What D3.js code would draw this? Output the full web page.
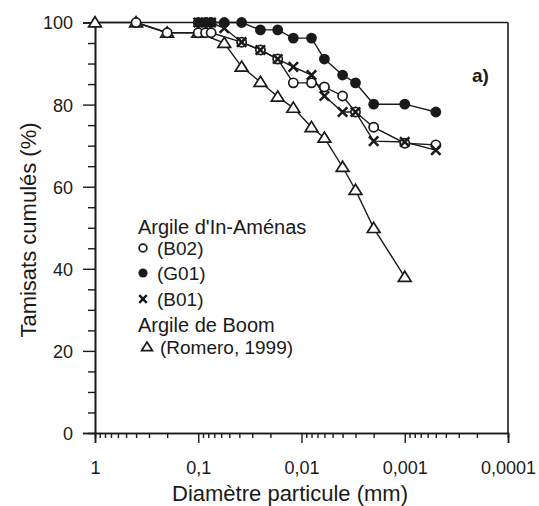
<!DOCTYPE html>
<html>
<head>
<meta charset="utf-8">
<script src="https://cdn.jsdelivr.net/npm/d3@7"></script>
<style>
  body { margin: 0; background: #fff; }
  text { font-family: "Liberation Sans", Arial, sans-serif; fill: #1a1a1a; }
</style>
</head>
<body>
<div id="chart"></div>
<script>
// grain size data, diameters in mm, cumulated passing in %
const boomD   = [1, 0.4, 0.2, 0.1, 0.056, 0.038, 0.025, 0.017, 0.012, 0.008, 0.006, 0.004, 0.003, 0.002, 0.001];
const boomV   = [100, 100, 97.5, 97.5, 95, 89.2, 85.5, 81.9, 79.2, 74.5, 71.9, 64.8, 59.2, 49.9, 38];

const b02D = [0.4, 0.2, 0.1, 0.085, 0.075, 0.038, 0.025, 0.017, 0.012, 0.008, 0.006, 0.004, 0.003, 0.002, 0.001, 0.0005];
const b02V = [100, 97.5, 97.5, 97.5, 97.5, 95.2, 93.3, 91.1, 85.3, 85.3, 84.3, 82.1, 78.2, 74.5, 70.6, 70.2];

const g01D = [0.1, 0.085, 0.075, 0.056, 0.038, 0.025, 0.017, 0.012, 0.008, 0.006, 0.004, 0.003, 0.002, 0.001, 0.0005];
const g01V = [100, 100, 100, 100, 100, 98.2, 98.2, 96.2, 96.2, 91.1, 87.2, 85.3, 80.1, 80.1, 78.2];

const b01D = [0.1, 0.085, 0.075, 0.056, 0.038, 0.025, 0.017, 0.012, 0.008, 0.006, 0.004, 0.003, 0.002, 0.001, 0.0005];
const b01V = [100, 100, 100, 98.6, 95.2, 93.3, 91.1, 89.2, 87.2, 82.1, 78.2, 78.2, 71.1, 70.9, 68.9];

const xTicks = [1, 0.1, 0.01, 0.001, 0.0001];
const xTickLabels = ["1", "0,1", "0,01", "0,001", "0,0001"];
const yTicks = [0, 20, 40, 60, 80, 100];

const W = 539, H = 506;
const ink = "#1a1a1a";

const svg = d3.select("#chart").append("svg")
    .attr("width", W)
    .attr("height", H);

// log scale, reversed (coarse on the left)
const x = d3.scaleLog()
    .domain([1, 0.0001])
    .range([95, 508]);

const y = d3.scaleLinear()
    .domain([0, 100])
    .range([433, 22.5]);

// minor ticks
let xMinor = [];
for (let e = 0; e > -4; e--) {
    for (let k = 2; k <= 9; k++) xMinor.push(k * Math.pow(10, e - 1));
}
let yMinor = d3.range(0, 101, 5).filter(v => v % 20 !== 0);

// frame top and right
svg.append("line")
    .attr("x1", x(1)).attr("x2", x(0.0001))
    .attr("y1", y(100)).attr("y2", y(100))
    .attr("stroke", ink).attr("stroke-width", 1.6);
svg.append("line")
    .attr("x1", x(0.0001)).attr("x2", x(0.0001))
    .attr("y1", y(100)).attr("y2", y(0))
    .attr("stroke", ink).attr("stroke-width", 1.6);

// x axis
const gxMinor = svg.append("g")
    .attr("transform", `translate(0,${y(0)})`)
    .call(d3.axisBottom(x).tickValues(xMinor).tickSize(5).tickFormat(""));
const gx = svg.append("g")
    .attr("transform", `translate(0,${y(0)})`)
    .call(d3.axisBottom(x).tickValues(xTicks).tickSize(10).tickPadding(18)
        .tickFormat((d, i) => xTickLabels[i]));

// y axis
const gyMinor = svg.append("g")
    .attr("transform", `translate(${x(1)},0)`)
    .call(d3.axisLeft(y).tickValues(yMinor).tickSize(7).tickFormat(""));
const gy = svg.append("g")
    .attr("transform", `translate(${x(1)},0)`)
    .call(d3.axisLeft(y).tickValues(yTicks).tickSize(12).tickPadding(10));

[gx, gy, gxMinor, gyMinor].forEach(g => {
    g.select(".domain").attr("stroke", ink).attr("stroke-width", 1.6);
    g.selectAll(".tick line").attr("stroke", ink).attr("stroke-width", 1.4);
    g.selectAll(".tick text")
        .style("font-family", '"Liberation Sans", Arial, sans-serif')
        .style("font-size", "18px")
        .attr("fill", ink);
});
gy.selectAll(".tick text").attr("dy", "0.36em");

// axis titles
svg.append("text")
    .attr("x", 290).attr("y", 501)
    .attr("text-anchor", "middle")
    .style("font-size", "22px")
    .text("Diamètre particule (mm)");

svg.append("text")
    .attr("transform", "translate(36,230) rotate(-90)")
    .attr("text-anchor", "middle")
    .style("font-size", "22px")
    .text("Tamisats cumulés (%)");

svg.append("text")
    .attr("x", 472).attr("y", 82)
    .style("font-size", "19px")
    .style("font-weight", "bold")
    .text("a)");

// marker drawing
function drawMarker(g, type, cx, cy, s) {
    if (type === "open") {
        g.append("circle").attr("cx", cx).attr("cy", cy).attr("r", 4.6 * s)
            .attr("fill", "#fff").attr("stroke", ink).attr("stroke-width", 1.7);
    } else if (type === "filled") {
        g.append("circle").attr("cx", cx).attr("cy", cy).attr("r", 5.4 * s)
            .attr("fill", ink);
    } else if (type === "cross") {
        const a = 4.7 * s;
        g.append("path")
            .attr("d", `M${cx - a},${cy - a}L${cx + a},${cy + a}M${cx - a},${cy + a}L${cx + a},${cy - a}`)
            .attr("stroke", ink).attr("stroke-width", 2.5).attr("fill", "none");
    } else if (type === "tri") {
        const a = 5.8 * s;
        g.append("path")
            .attr("d", `M${cx},${cy - a}L${cx + a * 1.1},${cy + a * 0.75}L${cx - a * 1.1},${cy + a * 0.75}Z`)
            .attr("fill", "#fff").attr("stroke", ink).attr("stroke-width", 1.7);
    }
}

const series = [
    { d: boomD, v: boomV, type: "tri" },
    { d: b02D, v: b02V, type: "open" },
    { d: g01D, v: g01V, type: "filled" },
    { d: b01D, v: b01V, type: "cross" }
];

const line = d3.line()
    .x(p => x(p[0]))
    .y(p => y(p[1]));

// lines first, then markers on top
series.forEach(s => {
    const pts = s.d.map((d, i) => [d, s.v[i]]);
    svg.append("path")
        .datum(pts)
        .attr("d", line)
        .attr("fill", "none")
        .attr("stroke", ink)
        .attr("stroke-width", 1.4);
});
series.forEach(s => {
    const g = svg.append("g");
    s.d.forEach((d, i) => drawMarker(g, s.type, x(d), y(s.v[i]), 1));
});

// legend
const leg = svg.append("g");
leg.append("text").attr("x", 138).attr("y", 234).style("font-size", "20px").text("Argile d'In-Aménas");
drawMarker(leg, "open", 143, 248, 0.85);
leg.append("text").attr("x", 157).attr("y", 255).style("font-size", "19px").text("(B02)");
drawMarker(leg, "filled", 143, 273, 0.85);
leg.append("text").attr("x", 157).attr("y", 280).style("font-size", "19px").text("(G01)");
drawMarker(leg, "cross", 143, 299, 0.8);
leg.append("text").attr("x", 157).attr("y", 306).style("font-size", "19px").text("(B01)");
leg.append("text").attr("x", 138).attr("y", 332).style("font-size", "20px").text("Argile de Boom");
drawMarker(leg, "tri", 147, 347, 0.85);
leg.append("text").attr("x", 160).attr("y", 354).style("font-size", "19px").text("(Romero, 1999)");
</script>
</body>
</html>
